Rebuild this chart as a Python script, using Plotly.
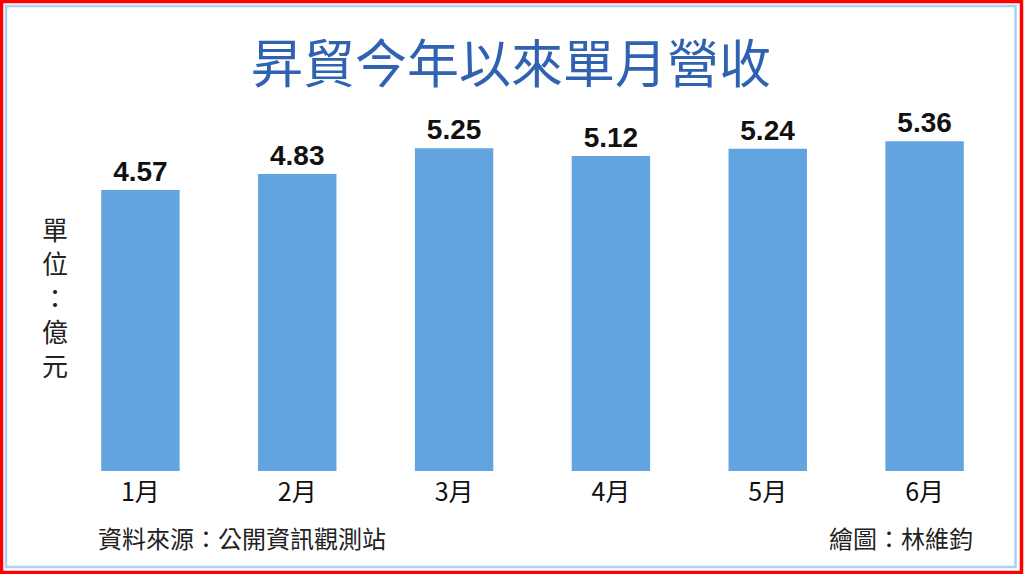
import plotly.graph_objects as go

months = ["1月", "2月", "3月", "4月", "5月", "6月"]
revenue = [4.57, 4.83, 5.25, 5.12, 5.24, 5.36]
labels = ["4.57", "4.83", "5.25", "5.12", "5.24", "5.36"]
unit_chars = ["單", "位", "：", "億", "元"]

W, H = 1024, 574
ML, MR, MT, MB = 62, 21, 110, 103
pw, ph = W - ML - MR, H - MT - MB

def px(x):
    return (x - ML) / pw

def py(y):
    return (H - MB - y) / ph

fig = go.Figure(go.Bar(
    x=months, y=revenue, text=labels, textposition="outside",
    textfont=dict(family="Liberation Sans, Arial", size=28, color="#111111", weight="bold"),
    marker=dict(color="#62A4DF", line=dict(width=0)),
    width=0.5, cliponaxis=False,
))

ann = [
    dict(text="昇貿今年以來單月營收", x=px(511), y=py(60), xref="paper", yref="paper",
         showarrow=False, xanchor="center", yanchor="middle",
         font=dict(family="Noto Sans CJK TC", size=52, color="#2F62B0")),
    dict(text="資料來源：公開資訊觀測站", x=px(96), y=py(537), xref="paper", yref="paper",
         showarrow=False, xanchor="left", yanchor="middle",
         font=dict(family="Noto Sans CJK TC", size=24, color="#222222")),
    dict(text="繪圖：林維鈞", x=px(975), y=py(537), xref="paper", yref="paper",
         showarrow=False, xanchor="right", yanchor="middle",
         font=dict(family="Noto Sans CJK TC", size=24, color="#222222")),
]
for ch, yc in zip(unit_chars, [228, 262, 296, 330, 364]):
    ann.append(dict(text=ch, x=px(55), y=py(yc), xref="paper", yref="paper",
                    showarrow=False, xanchor="center", yanchor="middle", borderpad=0,
                    font=dict(family="Noto Sans CJK TC", size=26, color="#222222")))

fig.update_layout(
    width=W, height=H,
    margin=dict(l=ML, r=MR, t=MT, b=MB),
    paper_bgcolor="white", plot_bgcolor="white",
    showlegend=False,
    bargap=0.5,
    xaxis=dict(showgrid=False, showline=False, zeroline=False, ticks="",
               tickfont=dict(family="Noto Sans CJK TC", size=25, color="#111111"),
               ticklabelstandoff=4),
    yaxis=dict(range=[0, ph / 61.5], visible=False),
    annotations=ann,
    shapes=[
        dict(type="rect", xref="paper", yref="paper",
             x0=px(6), x1=px(1015.5), y0=py(6), y1=py(567),
             line=dict(color="#A9D1F2", width=2.5), fillcolor="rgba(0,0,0,0)", layer="below"),
        dict(type="rect", xref="paper", yref="paper",
             x0=px(1.5), x1=px(1021.5), y0=py(1.5), y1=py(572.5),
             line=dict(color="#FF0000", width=3.5), fillcolor="rgba(0,0,0,0)"),
    ],
)

fig.write_html("out.html", config={"displayModeBar": False},
               post_script="document.body.style.margin='0';document.body.style.overflow='hidden';")
